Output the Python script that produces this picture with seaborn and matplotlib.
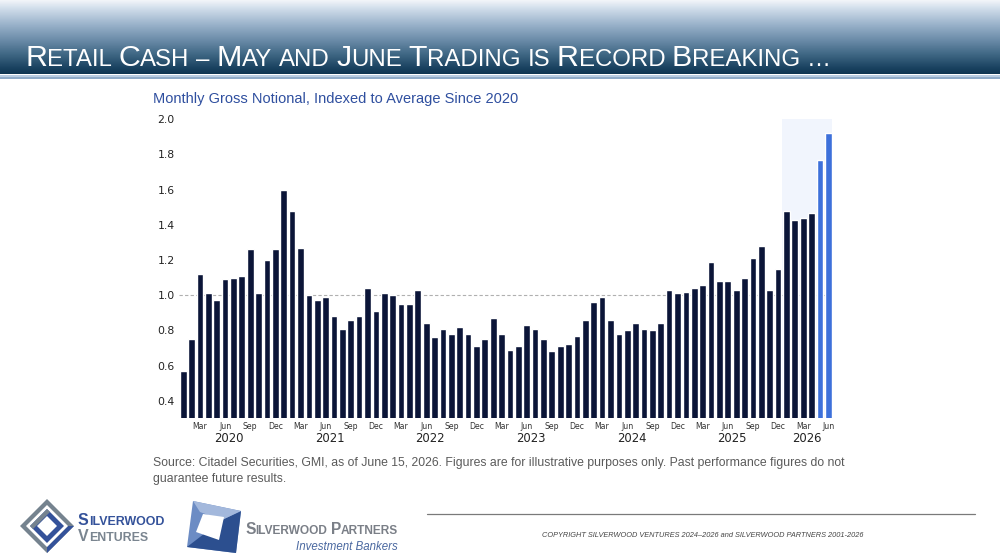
import numpy as np
import pandas as pd
import matplotlib
matplotlib.use("Agg")
import matplotlib.pyplot as plt
import seaborn as sns
from matplotlib.patches import Polygon, Rectangle
from matplotlib.colors import LinearSegmentedColormap

# ---------------- data ----------------
start_month = "2020-01"
values = [
    0.57, 0.75, 1.12, 1.01, 0.97, 1.09, 1.10, 1.11, 1.26, 1.01, 1.20, 1.26,   # 2020
    1.60, 1.48, 1.27, 1.00, 0.97, 0.99, 0.88, 0.81, 0.86, 0.88, 1.04, 0.91,   # 2021
    1.01, 1.00, 0.95, 0.95, 1.03, 0.84, 0.76, 0.81, 0.78, 0.82, 0.78, 0.71,   # 2022
    0.75, 0.87, 0.78, 0.69, 0.71, 0.83, 0.81, 0.75, 0.68, 0.71, 0.72, 0.77,   # 2023
    0.86, 0.96, 0.99, 0.86, 0.78, 0.80, 0.84, 0.81, 0.80, 0.84, 1.03, 1.01,   # 2024
    1.02, 1.04, 1.06, 1.19, 1.08, 1.08, 1.03, 1.10, 1.21, 1.28, 1.03, 1.15,   # 2025
    1.48, 1.43, 1.44, 1.47, 1.77, 1.92,                                       # 2026
]
highlight_months = ["2026-05", "2026-06"]
shade_from = "2026-01"
tick_months = [3, 6, 9, 12]
month_names = {3: "Mar", 6: "Jun", 9: "Sep", 12: "Dec"}
yticks = [0.4, 0.6, 0.8, 1.0, 1.2, 1.4, 1.6, 1.8, 2.0]
reference_level = 1.0

title = "Retail Cash \u2013 May and June Trading is Record Breaking \u2026"
subtitle = "Monthly Gross Notional, Indexed to Average Since 2020"
source_lines = [
    "Source: Citadel Securities, GMI, as of June 15, 2026. Figures are for illustrative purposes only. Past performance figures do not",
    "guarantee future results.",
]
copyright_text = "COPYRIGHT SILVERWOOD VENTURES 2024\u20132026 and SILVERWOOD PARTNERS 2001-2026"

dates = pd.date_range(start_month, periods=len(values), freq="MS")
keys = dates.strftime("%Y-%m")
df = pd.DataFrame({
    "idx": np.arange(len(values)),
    "value": values,
    "group": ["recent" if k in highlight_months else "hist" for k in keys],
})

# ---------------- figure ----------------
sns.set_theme(style="white")
plt.rcParams["font.family"] = ["DejaVu Sans"]
W, H, DPI = 1000, 560, 100
fig = plt.figure(figsize=(W / DPI, H / DPI), dpi=DPI)
fig.patch.set_facecolor("white")

# decoration layer in pixel coordinates
deco = fig.add_axes([0, 0, 1, 1], zorder=0)
deco.set_xlim(0, W)
deco.set_ylim(H, 0)
deco.axis("off")

# header gradient
stops = [(0.0, "#f6f8fb"), (0.13, "#cfdcea"), (0.33, "#9cb4cc"),
         (0.55, "#6a8ba8"), (0.75, "#3d6582"), (0.92, "#1a4260"), (1.0, "#0f3652")]
cmap = LinearSegmentedColormap.from_list("hdr", stops)
grad = np.linspace(0, 1, 200).reshape(-1, 1)
deco.imshow(grad, cmap=cmap, aspect="auto", extent=[0, W, 74.5, 0], zorder=1)
deco.add_patch(Rectangle((0, 74.5), W, 2.0, color="#b9cde2", zorder=2, lw=0))
deco.add_patch(Rectangle((0, 76.5), W, 2.5, color="#8fabc8", zorder=2, lw=0))
deco.set_xlim(0, W)
deco.set_ylim(H, 0)

renderer = fig.canvas.get_renderer()


def small_caps(x, y, text, big, small, color, weight="normal", family="Liberation Sans",
               style="normal", space_em=0.278):
    """Draw text in small caps, returns end x (pixels)."""
    runs = []
    for ch in text:
        if ch == " ":
            kind = "space"
        elif ch.isupper():
            kind = "big"
        else:
            kind = "small"
        if runs and runs[-1][0] == kind:
            runs[-1][1] += ch
        else:
            runs.append([kind, ch])
    for kind, s in runs:
        if kind == "space":
            x += space_em * small * DPI / 72 * len(s)
            continue
        size = big if kind == "big" else small
        t = deco.text(x, y, s.upper(), fontsize=size, color=color, family=family,
                      fontweight=weight, style=style, ha="left", va="baseline", zorder=5)
        bb = t.get_window_extent(renderer)
        x += bb.width
    return x


small_caps(25, 66, title, 21.9, 17.3, "white")

deco.text(153, 103, subtitle, fontsize=10.55, color="#2f4f9f", family="Liberation Sans",
          ha="left", va="baseline")
deco.text(153, 466, source_lines[0], fontsize=8.8, color="#5a5a5a", family="Liberation Sans",
          ha="left", va="baseline")
deco.text(153, 482, source_lines[1], fontsize=8.8, color="#5a5a5a", family="Liberation Sans",
          ha="left", va="baseline")
deco.plot([427, 975], [514, 514], color="#7a7a7a", lw=0.9)
deco.text(542, 537, copyright_text, fontsize=5.3, color="#444444", family="Liberation Sans",
          style="italic", ha="left", va="baseline")

# logos
cx, cy = 47, 526
def diamond(cx, cy, r, **kw):
    return Polygon([(cx, cy - r), (cx + r, cy), (cx, cy + r), (cx - r, cy)], closed=True, **kw)
deco.add_patch(diamond(cx, cy, 27, color="#75838f", lw=0, zorder=3))
deco.add_patch(Polygon([(cx, cy + 27), (cx + 27, cy), (cx + 21, cy), (cx, cy + 21)],
                       closed=True, color="#34529a", lw=0, zorder=4))
deco.add_patch(diamond(cx, cy, 21, color="white", lw=0, zorder=4))
deco.add_patch(diamond(cx, cy, 17, color="#34529a", lw=0, zorder=5))
deco.add_patch(Polygon([(cx - 17, cy), (cx, cy - 17), (cx + 3, cy - 14), (cx - 14, cy + 3)],
                       closed=True, color="#75838f", lw=0, zorder=6))
deco.add_patch(diamond(cx, cy, 10, color="white", lw=0, zorder=7))
small_caps(78, 525, "Silverwood", 11.5, 8.9, "#34529a", weight="bold")
small_caps(78, 541, "Ventures", 11.5, 8.9, "#7a8590", weight="bold")

outer = [(193, 501), (241, 511), (236, 553), (187, 547)]
deco.add_patch(Polygon(outer, closed=True, color="#6c8cc4", lw=0, zorder=3))
deco.add_patch(Polygon([(241, 511), (236, 553), (187, 547), (222, 520)], closed=True,
                       color="#2c4f8f", lw=0, zorder=4))
deco.add_patch(Polygon([(193, 501), (241, 511), (222, 520), (200, 512)], closed=True,
                       color="#a3b8dc", lw=0, zorder=4))
inner = [(203, 514), (224, 517), (219, 540), (196, 532)]
deco.add_patch(Polygon(inner, closed=True, color="white", lw=0, zorder=5))
small_caps(245, 534, "Silverwood Partners", 11.2, 8.55, "#7a7f87", weight="bold")
deco.text(398, 550, "Investment Bankers", fontsize=8.3, color="#4a68a0", family="Liberation Sans",
          style="italic", ha="right", va="baseline")

# ---------------- chart ----------------
ax_left, ax_right = 179, 832.5
ax_top, ax_bottom = 119.3, 418.3
ax = fig.add_axes([ax_left / W, 1 - ax_bottom / H, (ax_right - ax_left) / W, (ax_bottom - ax_top) / H],
                  zorder=2)
ax.patch.set_alpha(0)

shade_start = int(np.where(keys == shade_from)[0][0])
ax.axvspan(shade_start - 0.5, len(values) - 0.5, color="#f1f5fd", lw=0, zorder=0)
ax.axhline(reference_level, color="#b0b0b0", lw=0.8, ls=(0, (3, 2)), zorder=0.5)

sns.barplot(data=df, x="idx", y="value", hue="group",
            palette={"hist": "#0b1538", "recent": "#3d70da"},
            dodge=False, width=0.8, saturation=1, legend=False, ax=ax, zorder=2)

ax.set_xlim(-0.5, len(values) - 0.5)
ax.set_ylim(0.3, 2.0)
ax.set_yticks(yticks)
ax.set_yticklabels([f"{v:.1f}" for v in yticks])
tick_pos = [i for i, d in enumerate(dates) if d.month in tick_months]
ax.set_xticks(tick_pos)
ax.set_xticklabels([month_names[dates[i].month] for i in tick_pos])
ax.tick_params(axis="x", length=0, pad=2.5, labelsize=5.6, labelcolor="#333333")
ax.tick_params(axis="y", length=0, pad=3, labelsize=7.8, labelcolor="#222222")
ax.set_xlabel("")
ax.set_ylabel("")
for s in ax.spines.values():
    s.set_visible(False)

years = dates.year
for yr in sorted(set(years)):
    idxs = np.where(years == yr)[0]
    ax.text((idxs[0] + idxs[-1]) / 2, -0.069, str(yr), transform=ax.get_xaxis_transform(),
            ha="center", va="center", fontsize=8.4, color="#222222")

fig.savefig("out.png", dpi=DPI, facecolor="white")
